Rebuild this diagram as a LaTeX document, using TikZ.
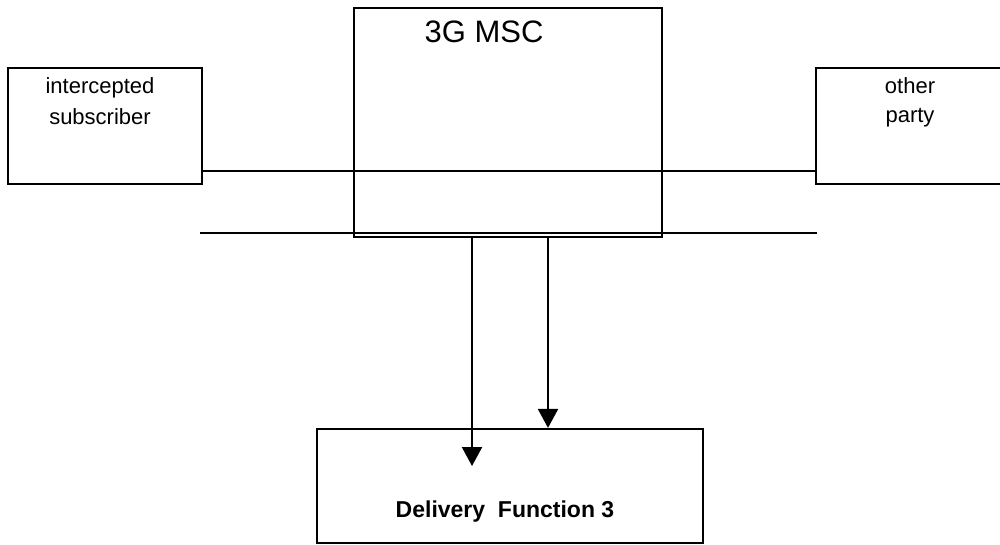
\documentclass[tikz,border=0pt]{standalone}
\usepackage{fontspec}
\setmainfont{Liberation Sans}
\usetikzlibrary{arrows.meta}
\begin{document}
\begin{tikzpicture}[x=0.5pt,y=-0.5pt,
  box/.style={draw,rectangle,line width=1.1pt,inner sep=0pt},
  lbl/.style={inner sep=0pt,anchor=base,align=center,font=\fontsize{11pt}{15.5pt}\selectfont},
  conn/.style={line width=1.1pt},
  arr/.style={line width=1.1pt,-{Triangle[width=10pt,length=9.5pt]}}]
\useasboundingbox (0,0) rectangle (1000,545);
\clip (0,0) rectangle (1000,545);
\node[box,minimum width=97pt,minimum height=58pt] (ib) at (105,126) {};
\node[box,minimum width=154pt,minimum height=114.5pt] (msc) at (508,122.5) {};
\node[box,minimum width=94.5pt,minimum height=58pt] (op) at (910.5,126) {};
\node[box,minimum width=193pt,minimum height=57pt] (df) at (510,486) {};
\node[lbl,font=\fontsize{15.5pt}{18pt}\selectfont] (msct) at (484,43) {3G MSC};
\node[lbl] (ibt) at (100,125) {intercepted\\subscriber};
\node[lbl,font=\fontsize{11pt}{14.5pt}\selectfont] (opt) at (910,123) {other\\party};
\node[lbl,font=\bfseries\fontsize{11.5pt}{14pt}\selectfont] (dft) at (505,517) {Delivery~~Function 3};
\coordinate (l1) at (0,171);
\coordinate (l2a) at (200,233);
\coordinate (l2b) at (817,233);
\coordinate (a1) at (472,237);
\coordinate (a2) at (548,237);
\coordinate (a1end) at (472,466);
\draw[conn] (ib.east |- l1) -- (op.west |- l1);
\draw[conn] (l2a) -- (l2b);
\draw[arr] (a1) -- (a1end);
\draw[arr] (a2) -- (a2 |- df.north);
\end{tikzpicture}
\end{document}
